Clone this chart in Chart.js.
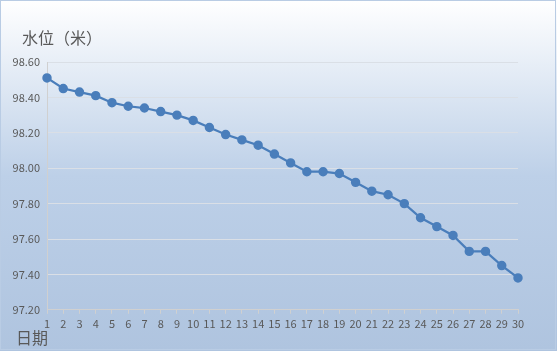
<!DOCTYPE html>
<html>
<head>
<meta charset="utf-8">
<script src="https://cdn.jsdelivr.net/npm/chart.js@4/dist/chart.umd.min.js"></script>
<style>
  html, body { margin: 0; padding: 0; background: #fff; }
  #wrap { width: 557px; height: 351px; }
</style>
</head>
<body>
<div id="wrap"><canvas id="levelChart" width="557" height="351"></canvas></div>
<script>
// 日期 1..30
const days = ['1','2','3','4','5','6','7','8','9','10','11','12','13','14','15',
              '16','17','18','19','20','21','22','23','24','25','26','27','28','29','30'];
// 水位（米）
const levels = [98.51, 98.45, 98.43, 98.41, 98.37, 98.35, 98.34, 98.32, 98.30, 98.27,
                98.23, 98.19, 98.16, 98.13, 98.08, 98.03, 97.98, 97.98, 97.97, 97.92,
                97.87, 97.85, 97.80, 97.72, 97.67, 97.62, 97.53, 97.53, 97.45, 97.38];
const yMin = 97.2, yMax = 98.6, yStep = 0.2;

const fontFamily = '"Noto Sans CJK SC", "Noto Sans", sans-serif';

// 背景渐变 + 边框 + 轴标题
const chartDecor = {
    id: 'chartDecor',
    beforeDraw(chart) {
        const ctx = chart.ctx, w = chart.width, h = chart.height;
        ctx.save();
        const g = ctx.createLinearGradient(0, 0, 0, h);
        g.addColorStop(0, '#ffffff');
        g.addColorStop(0.5, '#bdd0e8');
        g.addColorStop(1, '#afc4df');
        ctx.fillStyle = g;
        ctx.fillRect(0, 0, w, h);
        ctx.strokeStyle = '#b9cce4';
        ctx.lineWidth = 1;
        ctx.strokeRect(0.5, 0.5, w - 2, h - 2);
        ctx.restore();
    },
    afterDraw(chart) {
        const ctx = chart.ctx;
        ctx.save();
        ctx.fillStyle = '#595959';
        ctx.font = '16px ' + fontFamily;
        ctx.textBaseline = 'alphabetic';
        ctx.fillText('水位（米）', 22, 44);
        ctx.fillText('日期', 16, 344);
        ctx.restore();
    }
};

new Chart(document.getElementById('levelChart'), {
    type: 'line',
    data: {
        labels: days,
        datasets: [{
            data: levels,
            borderColor: '#4a7ebb',
            backgroundColor: '#4a7ebb',
            borderWidth: 2.25,
            pointRadius: 3.6,
            pointHoverRadius: 3.6,
            tension: 0
        }]
    },
    options: {
        responsive: false,
        animation: false,
        layout: { padding: { top: 62, right: 39, bottom: 18, left: 0 } },
        plugins: {
            legend: { display: false },
            tooltip: { enabled: false }
        },
        scales: {
            x: {
                offset: false,
                grid: {
                    drawOnChartArea: false,
                    drawTicks: true,
                    tickLength: 4,
                    color: '#d0d0d0'
                },
                border: { color: '#d0d0d0' },
                ticks: {
                    autoSkip: false,
                    maxRotation: 0,
                    padding: 3,
                    color: '#595959',
                    font: { family: fontFamily, size: 11 }
                }
            },
            y: {
                min: yMin,
                max: yMax,
                afterFit(scale) { scale.width = 47; },
                grid: { color: '#dadfe6', drawTicks: false },
                border: { color: '#d0d0d0' },
                ticks: {
                    stepSize: yStep,
                    padding: 7,
                    color: '#595959',
                    font: { family: fontFamily, size: 11 },
                    callback: v => v.toFixed(2)
                }
            }
        }
    },
    plugins: [chartDecor]
});
</script>
</body>
</html>
